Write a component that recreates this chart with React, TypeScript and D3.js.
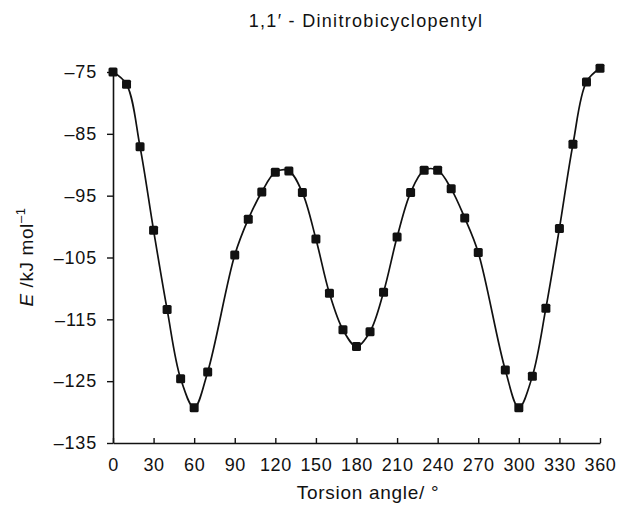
import React, { useRef, useEffect } from "react"
import * as d3 from "d3"

// torsion angle (deg) of each marker, and energy (kJ/mol)
const angles = [0, 10, 20, 30, 40, 50, 60, 70, 90, 100, 110, 120, 130, 140, 150, 160, 170, 180,
  190, 200, 210, 220, 230, 240, 250, 260, 270, 290, 300, 310, 320, 330, 340, 350, 360]
const energies = [-75, -77, -87.1, -100.6, -113.4, -124.6, -129.3, -123.5, -104.6, -98.8, -94.4, -91.2,
  -91.0, -94.5, -102.0, -110.8, -116.7, -119.4, -117.0, -110.6, -101.7, -94.5, -90.9, -90.9, -93.9,
  -98.6, -104.2, -123.2, -129.3, -124.2, -113.2, -100.3, -86.7, -76.6, -74.4]
const xTicks = [0, 30, 60, 90, 120, 150, 180, 210, 240, 270, 300, 330, 360]
const yTicks = [-75, -85, -95, -105, -115, -125, -135]

const title = "1,1\u2032 - Dinitrobicyclopentyl"
const FONT = "'Liberation Sans', Arial, Helvetica, sans-serif"

function App() {
  const ref = useRef<SVGSVGElement>(null)

  useEffect(() => {
    const svg = d3.select(ref.current)
    svg.selectAll("*").remove()

    const x = d3.scaleLinear().domain([0, 360]).range([113, 600])
    const y = d3.scaleLinear().domain([-135, -75]).range([443, 72])

    const data = angles.map((a, i) => ({ a, e: energies[i] }))

    // title
    svg.append("text")
      .attr("x", 366).attr("y", 27)
      .attr("text-anchor", "middle")
      .style("font-family", FONT).style("font-size", "18px")
      .style("letter-spacing", "1.3px")
      .attr("fill", "#111")
      .text(title)

    // y axis
    const yAxis = d3.axisLeft(y).tickValues(yTicks)
      .tickSizeInner(6).tickSizeOuter(0).tickPadding(10)
      .tickFormat((d) => String(d).replace("-", "\u2013"))
    const gy = svg.append("g").attr("transform", "translate(113,0)").call(yAxis)
    gy.select(".domain").attr("stroke", "#111").attr("stroke-width", 1.6)
    gy.selectAll(".tick line").attr("stroke", "#111").attr("stroke-width", 1.4)
    gy.selectAll(".tick text")
      .style("font-family", FONT).style("font-size", "18px")
      .style("letter-spacing", "0.8px").attr("fill", "#111")

    // x axis, ticks pointing up
    const xAxis = d3.axisBottom(x).tickValues(xTicks)
      .tickSizeInner(-5).tickSizeOuter(0).tickPadding(15)
    const gx = svg.append("g").attr("transform", "translate(0,443)").call(xAxis)
    gx.select(".domain").attr("stroke", "#111").attr("stroke-width", 1.6)
    gx.selectAll(".tick line").attr("stroke", "#111").attr("stroke-width", 1.4)
    gx.selectAll(".tick text")
      .style("font-family", FONT).style("font-size", "18px")
      .style("letter-spacing", "0.6px").attr("fill", "#111")

    // axis titles
    svg.append("text")
      .attr("x", 368).attr("y", 499)
      .attr("text-anchor", "middle")
      .style("font-family", FONT).style("font-size", "19px")
      .style("letter-spacing", "0.7px")
      .attr("fill", "#111")
      .text("Torsion angle/ \u00b0")

    const yt = svg.append("text")
      .attr("transform", "translate(33,257) rotate(-90)")
      .attr("text-anchor", "middle")
      .style("font-family", FONT).style("font-size", "19px")
      .style("letter-spacing", "0.6px")
      .attr("fill", "#111")
    yt.append("tspan").style("font-style", "italic").text("E")
    yt.append("tspan").text(" /kJ mol")
    yt.append("tspan").attr("dy", -8).style("font-size", "13px").text("\u20131")

    // curve
    const line = d3.line<{ a: number; e: number }>()
      .x((d) => x(d.a)).y((d) => y(d.e))
      .curve(d3.curveCatmullRom.alpha(0.5))
    svg.append("path").datum(data)
      .attr("d", line)
      .attr("fill", "none").attr("stroke", "#111").attr("stroke-width", 1.7)

    // markers
    svg.selectAll("rect.pt").data(data).enter().append("rect")
      .attr("class", "pt")
      .attr("x", (d) => x(d.a) - 4.5).attr("y", (d) => y(d.e) - 4.5)
      .attr("width", 9).attr("height", 9).attr("rx", 1.5)
      .attr("fill", "#111")
  }, [])

  return (
    <svg ref={ref} width={620} height={505}
      style={{ position: "absolute", left: 0, top: 0, background: "#fff" }} />
  )
}

export default App
